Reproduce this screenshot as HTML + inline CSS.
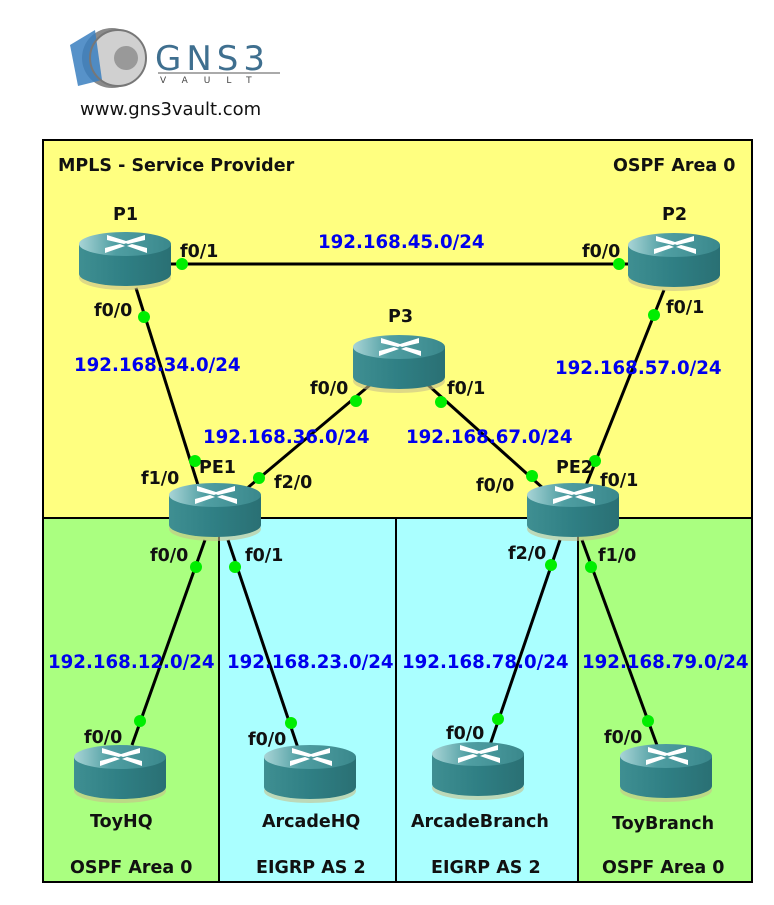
<!DOCTYPE html>
<html><head><meta charset="utf-8"><style>
body{margin:0;background:#fff;width:774px;height:900px;overflow:hidden}
text{font-family:"DejaVu Sans","Liberation Sans",sans-serif;font-weight:bold}
</style></head><body>
<svg width="774" height="900" xmlns="http://www.w3.org/2000/svg">
<defs>
<linearGradient id="rg" x1="0" x2="1" y1="0" y2="0">
<stop offset="0" stop-color="#3f8f92"/><stop offset="0.5" stop-color="#2f7f84"/><stop offset="1" stop-color="#2a7074"/></linearGradient>
<linearGradient id="rt" x1="0" x2="1"><stop offset="0" stop-color="#a8d4d6"/><stop offset="0.4" stop-color="#4f9ea2"/><stop offset="1" stop-color="#3a888c"/></linearGradient>
<g id="r">
<ellipse cx="46" cy="46" rx="46" ry="12" fill="#c8c08a" opacity="0.6"/>
<path d="M0 12 V42 A46 12 0 0 0 92 42 V12 Z" fill="url(#rg)"/>
<ellipse cx="46" cy="12" rx="46" ry="12" fill="url(#rt)"/>
<g fill="#fff">
<path d="M28 3 L50 10 L45 12 L28 8 Z"/><path d="M66 3 L44 10 L49 12 L66 8 Z"/>
<path d="M26 21 L46 14 L41 12 L26 16 Z"/><path d="M68 21 L48 14 L53 12 L68 16 Z"/>
</g>
</g>
</defs>
<circle cx="112" cy="58" r="30" fill="#8a8a8a"/><circle cx="118" cy="58" r="28" fill="#d0d0d0"/><circle cx="126" cy="58" r="12" fill="#999"/>
<path d="M70 45 L95 30 L102 80 L78 86 Z" fill="#3a7fc0" opacity="0.85"/>
<circle cx="118" cy="58" r="28" fill="none" stroke="#777" stroke-width="2"/>
<text x="155" y="70" font-size="34" fill="#3f6f8f" style="font-weight:normal" letter-spacing="5">GNS3</text>
<line x1="158" y1="73" x2="280" y2="73" stroke="#555"/>
<text x="160" y="83" font-size="9" fill="#444" style="font-weight:normal" letter-spacing="16">VAULT</text>
<text x="80" y="115" font-size="18" fill="#111" style="font-weight:normal">www.gns3vault.com</text>
<rect x="43" y="140" width="709" height="378" fill="#ffff80" stroke="#000" stroke-width="2"/>
<rect x="43" y="518" width="176" height="364" fill="#aaff80" stroke="#000" stroke-width="2"/>
<rect x="219" y="518" width="177" height="364" fill="#aaffff" stroke="#000" stroke-width="2"/>
<rect x="396" y="518" width="182" height="364" fill="#aaffff" stroke="#000" stroke-width="2"/>
<rect x="578" y="518" width="174" height="364" fill="#aaff80" stroke="#000" stroke-width="2"/>
<g font-size="17.5" fill="#111">
<text x="58" y="171">MPLS - Service Provider</text><text x="613" y="171">OSPF Area 0</text>
<text x="70" y="873">OSPF Area 0</text><text x="256" y="873">EIGRP AS 2</text>
<text x="431" y="873">EIGRP AS 2</text><text x="602" y="873">OSPF Area 0</text>
</g>
<g stroke="#000" stroke-width="3">
<line x1="170" y1="264" x2="628" y2="264"/>
<line x1="136" y1="288" x2="198" y2="485"/>
<line x1="370" y1="385" x2="245" y2="490"/>
<line x1="428" y1="385" x2="545" y2="490"/>
<line x1="664" y1="290" x2="585" y2="488"/>
<line x1="205" y1="540" x2="132" y2="745"/>
<line x1="228" y1="540" x2="298" y2="748"/>
<line x1="560" y1="540" x2="490" y2="745"/>
<line x1="582" y1="540" x2="658" y2="748"/>
</g>
<use href="#r" x="79" y="232"/><use href="#r" x="628" y="233"/><use href="#r" x="353" y="335"/>
<use href="#r" x="169" y="483"/><use href="#r" x="527" y="483"/>
<use href="#r" x="74" y="745"/><use href="#r" x="264" y="745"/><use href="#r" x="432" y="742"/><use href="#r" x="620" y="744"/>
<g fill="#00ee00">
<circle cx="182" cy="264" r="6"/><circle cx="619" cy="264" r="6"/><circle cx="144" cy="317" r="6"/><circle cx="195" cy="461" r="6"/>
<circle cx="356" cy="401" r="6"/><circle cx="259" cy="478" r="6"/><circle cx="441" cy="402" r="6"/><circle cx="532" cy="476" r="6"/>
<circle cx="654" cy="315" r="6"/><circle cx="595" cy="461" r="6"/><circle cx="196" cy="567" r="6"/><circle cx="140" cy="721" r="6"/>
<circle cx="235" cy="567" r="6"/><circle cx="291" cy="723" r="6"/><circle cx="551" cy="565" r="6"/><circle cx="498" cy="719" r="6"/>
<circle cx="591" cy="567" r="6"/><circle cx="648" cy="721" r="6"/>
</g>
<g font-size="17.5" fill="#111">
<text x="113" y="220">P1</text><text x="662" y="220">P2</text><text x="388" y="322">P3</text>
<text x="199" y="473">PE1</text><text x="556" y="473">PE2</text>
<text x="90" y="827">ToyHQ</text><text x="262" y="827">ArcadeHQ</text><text x="411" y="827">ArcadeBranch</text><text x="612" y="829">ToyBranch</text>
<text x="180" y="257">f0/1</text><text x="582" y="257">f0/0</text><text x="94" y="316">f0/0</text><text x="666" y="313">f0/1</text>
<text x="310" y="394">f0/0</text><text x="447" y="394">f0/1</text><text x="141" y="484">f1/0</text><text x="274" y="488">f2/0</text>
<text x="476" y="491">f0/0</text><text x="600" y="486">f0/1</text><text x="150" y="561">f0/0</text><text x="245" y="561">f0/1</text>
<text x="508" y="559">f2/0</text><text x="598" y="561">f1/0</text>
<text x="84" y="743">f0/0</text><text x="248" y="745">f0/0</text><text x="446" y="739">f0/0</text><text x="604" y="743">f0/0</text>
</g>
<g font-size="18.2" fill="#0000ee">
<text x="318" y="248">192.168.45.0/24</text><text x="74" y="371">192.168.34.0/24</text><text x="555" y="374">192.168.57.0/24</text>
<text x="203" y="443">192.168.36.0/24</text><text x="406" y="443">192.168.67.0/24</text>
<text x="48" y="668">192.168.12.0/24</text><text x="227" y="668">192.168.23.0/24</text><text x="402" y="668">192.168.78.0/24</text><text x="582" y="668">192.168.79.0/24</text>
</g>
</svg>
</body></html>
